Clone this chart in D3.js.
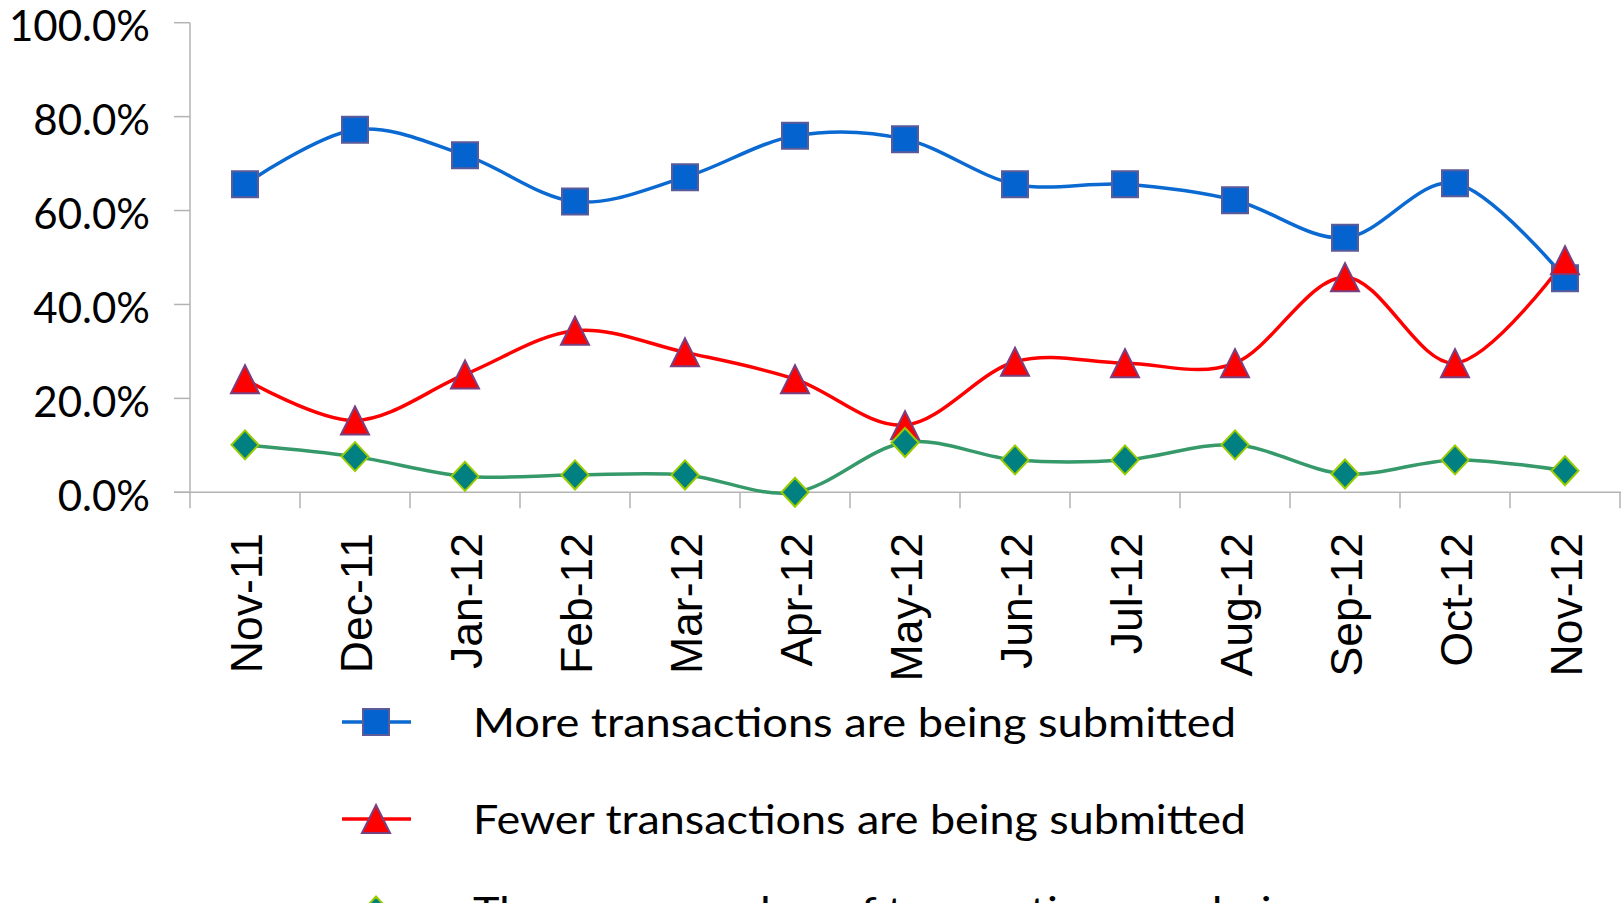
<!DOCTYPE html>
<html>
<head>
<meta charset="utf-8">
<script src="https://cdn.jsdelivr.net/npm/d3@7"></script>
<style>
  body { margin: 0; background: #fff; }
  svg { display: block; }
</style>
</head>
<body>
<svg id="chart" width="1621" height="903"></svg>
<script>
// months on the x axis
let months = ['Nov-11', 'Dec-11', 'Jan-12', 'Feb-12', 'Mar-12', 'Apr-12', 'May-12',
              'Jun-12', 'Jul-12', 'Aug-12', 'Sep-12', 'Oct-12', 'Nov-12'];

// share of answers, in percent
let more  = [65.6, 77.2, 71.8, 61.9, 67.1, 75.9, 75.2, 65.6, 65.6, 62.2, 54.2, 65.8, 45.6];
let fewer = [24.1, 15.3, 25.1, 34.4, 29.8, 24.1, 14.3, 27.8, 27.5, 27.5, 45.8, 27.5, 49.4];
let same  = [10.1, 7.6, 3.4, 3.7, 3.7, 0.0, 10.6, 6.9, 6.9, 10.1, 3.9, 6.9, 4.6];

// legend labels (the last one wraps onto a second line)
let seriesNames = [['More transactions are being submitted'],
                   ['Fewer transactions are being submitted'],
                   ['The same number of transactions are being', 'submitted']];

let yTicks = [0, 20, 40, 60, 80, 100];

const svg = d3.select('#chart');

const x = d3.scalePoint().domain(months).range([190, 1620]).padding(0.5);
const y = d3.scaleLinear().domain([0, 100]).range([492.3, 22.7]);
const step = x.step();

const axisColor = '#b3b3b3';

// marker shapes
const shapes = {
    square: 'M-13,-13H13V13H-13Z',
    triangle: 'M0,-14L14,14H-14Z',
    diamond: 'M0,-14.5L13.5,0L0,14.5L-13.5,0Z'
};

const series = [
    { name: seriesNames[0], values: more,  line: '#0a6ad2', fill: '#0563cf', stroke: '#5b5b99', shape: 'square',   cy: 722, width: [763] },
    { name: seriesNames[1], values: fewer, line: '#ff0000', fill: '#ff0000', stroke: '#7a3f7f', shape: 'triangle', cy: 819, width: [773] },
    { name: seriesNames[2], values: same,  line: '#35996a', fill: '#008080', stroke: '#99cc00', shape: 'diamond',  cy: 911, width: [847, 200] }
];

// y axis
const gy = svg.append('g');
gy.append('line')
    .attr('x1', 190).attr('x2', 190)
    .attr('y1', y(100)).attr('y2', y(0) + 16)
    .attr('stroke', axisColor).attr('stroke-width', 1.5);
yTicks.forEach(t => {
    gy.append('line')
        .attr('x1', 174).attr('x2', 190)
        .attr('y1', y(t)).attr('y2', y(t))
        .attr('stroke', axisColor).attr('stroke-width', 1.5);
    gy.append('text')
        .attr('x', 150).attr('y', y(t) + 18.5)
        .attr('text-anchor', 'end')
        .style('font-family', 'Lato, sans-serif')
        .style('font-size', '42px')
        .text(d3.format('.1f')(t) + '%');
});

// x axis
const gx = svg.append('g');
gx.append('line')
    .attr('x1', 174).attr('x2', 1621)
    .attr('y1', y(0)).attr('y2', y(0))
    .attr('stroke', axisColor).attr('stroke-width', 1.5);
months.forEach((m, i) => {
    const bx = x(m) + step / 2;
    gx.append('line')
        .attr('x1', bx).attr('x2', bx)
        .attr('y1', y(0)).attr('y2', y(0) + 16)
        .attr('stroke', axisColor).attr('stroke-width', 1.5);
    gx.append('text')
        .attr('transform', `translate(${x(m)},533) rotate(-90)`)
        .attr('text-anchor', 'end')
        .attr('dy', '0.38em')
        .style('font-family', '"Liberation Sans", Arial, sans-serif')
        .style('font-size', '44.5px')
        .text(m);
});

// lines + markers
const line = d3.line()
    .x((d, i) => x(months[i]))
    .y(d => y(d))
    .curve(d3.curveCatmullRom.alpha(0));

series.forEach(s => {
    svg.append('path')
        .attr('d', line(s.values))
        .attr('fill', 'none')
        .attr('stroke', s.line)
        .attr('stroke-width', 3.5);
});

series.forEach(s => {
    svg.append('g').selectAll('path')
        .data(s.values)
        .enter()
        .append('path')
        .attr('transform', (d, i) => `translate(${x(months[i])},${y(d)})`)
        .attr('d', shapes[s.shape])
        .attr('fill', s.fill)
        .attr('stroke', s.stroke)
        .attr('stroke-width', 2);
});

// legend
const legend = svg.append('g');
series.forEach(s => {
    legend.append('line')
        .attr('x1', 342).attr('x2', 411)
        .attr('y1', s.cy).attr('y2', s.cy)
        .attr('stroke', s.line).attr('stroke-width', 3.5);
    legend.append('path')
        .attr('transform', `translate(376,${s.cy})`)
        .attr('d', shapes[s.shape])
        .attr('fill', s.fill)
        .attr('stroke', s.stroke)
        .attr('stroke-width', 2);
    const txt = legend.append('text')
        .attr('x', 473).attr('y', s.cy + 15)
        .style('font-family', 'Lato, sans-serif')
        .style('font-size', '41px');
    s.name.forEach((part, k) => {
        txt.append('tspan')
            .attr('x', 473)
            .attr('dy', k === 0 ? 0 : 58)
            .attr('textLength', s.width[k])
            .attr('lengthAdjust', 'spacingAndGlyphs')
            .text(part);
    });
});
</script>
</body>
</html>
